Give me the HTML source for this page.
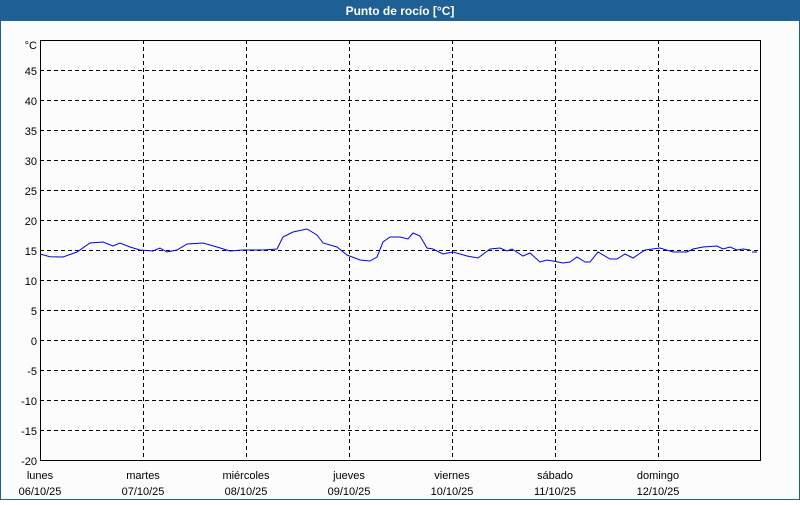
<!DOCTYPE html>
<html><head><meta charset="utf-8"><style>
body{margin:0;width:800px;height:500px;overflow:hidden;background:#fff}
</style></head><body>
<svg width="800" height="500" xmlns="http://www.w3.org/2000/svg" font-family="Liberation Sans, DejaVu Sans, sans-serif" font-size="11">
<rect x="0" y="0" width="800" height="500" fill="#fcfcfc"/>
<rect x="0.5" y="0.5" width="799" height="499" fill="none" stroke="#1e5f94"/>
<rect x="0" y="0" width="800" height="21" fill="#1e5f94"/>
<text x="400" y="15" fill="#fff" font-weight="bold" font-size="12" text-anchor="middle">Punto de rocío [°C]</text>
<g stroke="#000" stroke-dasharray="4,3" stroke-width="1">
<path d="M40 70.5H760M40 100.5H760M40 130.5H760M40 160.5H760M40 190.5H760M40 220.5H760M40 250.5H760M40 280.5H760M40 310.5H760M40 340.5H760M40 370.5H760M40 400.5H760M40 430.5H760"/>
<path d="M143.5 40V460M246.5 40V460M349.5 40V460M452.5 40V460M555.5 40V460M658.5 40V460"/>
</g>
<rect x="40.5" y="40.5" width="720" height="420" fill="none" stroke="#000"/>
<g text-anchor="end" fill="#000">
<text x="37" y="49">°C</text>
<text x="37" y="75">45</text><text x="37" y="105">40</text><text x="37" y="135">35</text>
<text x="37" y="165">30</text><text x="37" y="195">25</text><text x="37" y="225">20</text>
<text x="37" y="255">15</text><text x="37" y="285">10</text><text x="37" y="315">5</text>
<text x="37" y="345">0</text><text x="37" y="375">-5</text><text x="37" y="405">-10</text>
<text x="37" y="435">-15</text><text x="37" y="465">-20</text>
</g>
<g text-anchor="middle" fill="#000">
<text x="40" y="479">lunes</text><text x="40" y="495">06/10/25</text>
<text x="143" y="479">martes</text><text x="143" y="495">07/10/25</text>
<text x="246" y="479">miércoles</text><text x="246" y="495">08/10/25</text>
<text x="349" y="479">jueves</text><text x="349" y="495">09/10/25</text>
<text x="452" y="479">viernes</text><text x="452" y="495">10/10/25</text>
<text x="555" y="479">sábado</text><text x="555" y="495">11/10/25</text>
<text x="658" y="479">domingo</text><text x="658" y="495">12/10/25</text>
</g>
<polyline fill="none" stroke="#0000ee" stroke-width="1" points="40,254 50,256.7 63,257 77,252 90,243 103,242 113,246 120,243 130,247 140,250 153,251 160,248 167,252 177,250 187,244 203,243 217,247 230,251 243,250 263,250 277,249 283,237 293,232 307,229 317,235 323,243 337,247 347,255 360,260 370,261 377,257 383,242 390,237 400,237 408,239 413,233 420,236 427,248 433,249 443,254 453,252 467,256 478,258 490,249 500,248 507,251 512,249 523,256 530,253 540,262 547,260 553,261 563,263 570,262 577,257 585,262 590,262 598,252 610,259 617,259 625,254 633,258 645,250 660,248 673,252 687,252 693,249 703,247 717,246 723,249 730,247 737,250 743,249 750,250"/>
<polyline fill="none" stroke="#0000ee" points="752,252 757,252"/>
</svg>
</body></html>
